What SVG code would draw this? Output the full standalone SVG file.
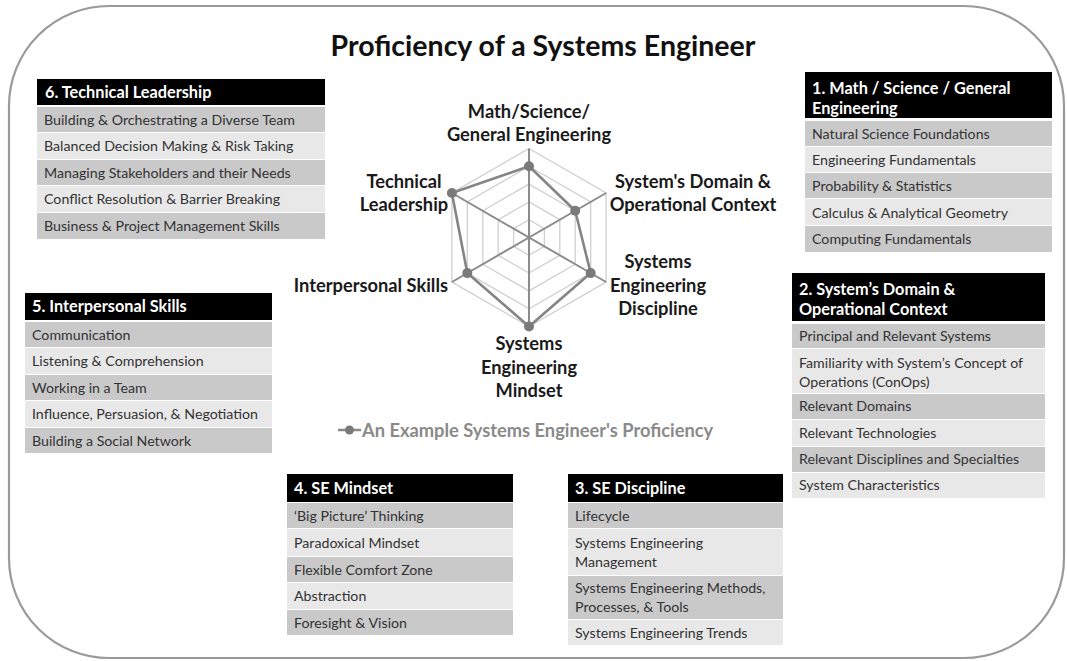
<svg xmlns="http://www.w3.org/2000/svg" width="1067" height="661" viewBox="0 0 1067 661">
  <style>
    .frame { fill: #ffffff; stroke: #9a9a9a; stroke-width: 2.2; }
    .title { font-family: Lato, "Liberation Sans", sans-serif; font-weight: 700; font-size: 28.5px; fill: #111; }
    .hdr { fill: #000; }
    .hdrtxt { font-family: Lato, "Liberation Sans", sans-serif; font-weight: 700; font-size: 16.3px; fill: #fff; }
    .dark { fill: #c9c9c9; }
    .light { fill: #e8e8e8; }
    .item { font-family: Lato, "Liberation Sans", sans-serif; font-size: 14.2px; fill: #333; }
    .ring { fill: none; stroke: #d0d0d0; stroke-width: 1.3; }
    .axis { stroke: #8c8c8c; stroke-width: 2; }
    .series { fill: none; stroke: #858585; stroke-width: 2.6; stroke-linejoin: round; }
    .dot { fill: #7a7a7a; }
    .lbl { font-family: Lato, "Liberation Sans", sans-serif; font-weight: 700; font-size: 18.3px; fill: #1a1a1a; }
    .legend { font-family: Lato, "Liberation Sans", sans-serif; font-weight: 700; font-size: 18.3px; fill: #8a8a8a; }
  </style>

  <rect class="frame" x="9" y="6" width="1055" height="652" rx="100" ry="100"/>

  <text class="title" x="543" y="56" text-anchor="middle">Proficiency of a Systems Engineer</text>

  <!-- radar chart: six axes, five rings -->
  <g id="radar">
    <polygon class="ring" points="529,219.7 544.4,228.6 544.4,246.4 529,255.3 513.6,246.4 513.6,228.6"/>
    <polygon class="ring" points="529,201.9 559.8,219.7 559.8,255.3 529,273.1 498.2,255.3 498.2,219.7"/>
    <polygon class="ring" points="529,184.1 575.2,210.8 575.2,264.2 529,290.9 482.8,264.2 482.8,210.8"/>
    <polygon class="ring" points="529,166.3 590.7,201.9 590.7,273.1 529,308.7 467.3,273.1 467.3,201.9"/>
    <polygon class="ring" points="529,148.5 606.1,193 606.1,282 529,326.5 451.9,282 451.9,193"/>
    <line class="axis" x1="529" y1="148.5" x2="529" y2="326.5"/>
    <line class="axis" x1="606.1" y1="193" x2="451.9" y2="282"/>
    <line class="axis" x1="606.1" y1="282" x2="451.9" y2="193"/>
    <polygon class="series" points="529,166.3 575.2,210.8 590.7,273.1 529,326.5 467.3,273.1 451.9,193"/>
    <circle class="dot" cx="529" cy="166.3" r="5"/>
    <circle class="dot" cx="575.2" cy="210.8" r="5"/>
    <circle class="dot" cx="590.7" cy="273.1" r="5"/>
    <circle class="dot" cx="529" cy="326.5" r="5"/>
    <circle class="dot" cx="467.3" cy="273.1" r="5"/>
    <circle class="dot" cx="451.9" cy="193" r="5"/>

    <text class="lbl" text-anchor="middle"><tspan x="529" y="118">Math/Science/</tspan><tspan x="529" y="141">General Engineering</tspan></text>
    <text class="lbl" text-anchor="middle"><tspan x="693" y="188">System's Domain &amp;</tspan><tspan x="693" y="211">Operational Context</tspan></text>
    <text class="lbl" text-anchor="middle"><tspan x="658" y="268">Systems</tspan><tspan x="658" y="292">Engineering</tspan><tspan x="658" y="315">Discipline</tspan></text>
    <text class="lbl" text-anchor="middle"><tspan x="529" y="350">Systems</tspan><tspan x="529" y="374">Engineering</tspan><tspan x="529" y="397">Mindset</tspan></text>
    <text class="lbl" x="448" y="292" text-anchor="end">Interpersonal Skills</text>
    <text class="lbl" text-anchor="middle"><tspan x="404" y="188">Technical</tspan><tspan x="404" y="211">Leadership</tspan></text>

    <line x1="338" y1="430" x2="361" y2="430" stroke="#8a8a8a" stroke-width="2.5"/>
    <circle class="dot" cx="349.5" cy="430" r="4.5"/>
    <text class="legend" x="362" y="437">An Example Systems Engineer's Proficiency</text>
  </g>

  <!-- 6. Technical Leadership -->
  <g id="box6">
    <rect class="hdr" x="37" y="79" width="288" height="26"/>
    <text class="hdrtxt" x="45" y="98">6. Technical Leadership</text>
    <rect class="dark" x="37" y="107" width="288" height="25"/>
    <rect class="light" x="37" y="133" width="288" height="26"/>
    <rect class="dark" x="37" y="160" width="288" height="25"/>
    <rect class="light" x="37" y="186" width="288" height="26"/>
    <rect class="dark" x="37" y="213" width="288" height="26"/>
    <text class="item" x="44" y="125">Building &amp; Orchestrating a Diverse Team</text>
    <text class="item" x="44" y="151">Balanced Decision Making &amp; Risk Taking</text>
    <text class="item" x="44" y="178">Managing Stakeholders and their Needs</text>
    <text class="item" x="44" y="204">Conflict Resolution &amp; Barrier Breaking</text>
    <text class="item" x="44" y="231">Business &amp; Project Management Skills</text>
  </g>

  <!-- 5. Interpersonal Skills -->
  <g id="box5">
    <rect class="hdr" x="25" y="293" width="247" height="27"/>
    <text class="hdrtxt" x="32" y="312">5. Interpersonal Skills</text>
    <rect class="dark" x="25" y="322" width="247" height="25"/>
    <rect class="light" x="25" y="348" width="247" height="26"/>
    <rect class="dark" x="25" y="375" width="247" height="25"/>
    <rect class="light" x="25" y="401" width="247" height="26"/>
    <rect class="dark" x="25" y="428" width="247" height="25"/>
    <text class="item" x="32" y="340">Communication</text>
    <text class="item" x="32" y="366">Listening &amp; Comprehension</text>
    <text class="item" x="32" y="393">Working in a Team</text>
    <text class="item" x="32" y="419">Influence, Persuasion, &amp; Negotiation</text>
    <text class="item" x="32" y="446">Building a Social Network</text>
  </g>

  <!-- 1. Math / Science / General Engineering -->
  <g id="box1">
    <rect class="hdr" x="805" y="72" width="247" height="46"/>
    <text class="hdrtxt"><tspan x="812" y="94">1. Math / Science / General</tspan><tspan x="812" y="114">Engineering</tspan></text>
    <rect class="dark" x="805" y="121" width="247" height="25"/>
    <rect class="light" x="805" y="147" width="247" height="25"/>
    <rect class="dark" x="805" y="173" width="247" height="25"/>
    <rect class="light" x="805" y="199" width="247" height="26"/>
    <rect class="dark" x="805" y="226" width="247" height="26"/>
    <text class="item" x="812" y="139">Natural Science Foundations</text>
    <text class="item" x="812" y="165">Engineering Fundamentals</text>
    <text class="item" x="812" y="191">Probability &amp; Statistics</text>
    <text class="item" x="812" y="218">Calculus &amp; Analytical Geometry</text>
    <text class="item" x="812" y="244">Computing Fundamentals</text>
  </g>

  <!-- 2. System's Domain & Operational Context -->
  <g id="box2">
    <rect class="hdr" x="792" y="273" width="253" height="48"/>
    <text class="hdrtxt"><tspan x="799" y="295">2. System’s Domain &amp;</tspan><tspan x="799" y="315">Operational Context</tspan></text>
    <rect class="dark" x="792" y="324" width="253" height="24"/>
    <rect class="light" x="792" y="349" width="253" height="44"/>
    <rect class="dark" x="792" y="394" width="253" height="25"/>
    <rect class="light" x="792" y="420" width="253" height="26"/>
    <rect class="dark" x="792" y="447" width="253" height="25"/>
    <rect class="light" x="792" y="473" width="253" height="25"/>
    <text class="item" x="799" y="341">Principal and Relevant Systems</text>
    <text class="item"><tspan x="799" y="368">Familiarity with System’s Concept of</tspan><tspan x="799" y="387">Operations (ConOps)</tspan></text>
    <text class="item" x="799" y="411">Relevant Domains</text>
    <text class="item" x="799" y="438">Relevant Technologies</text>
    <text class="item" x="799" y="464">Relevant Disciplines and Specialties</text>
    <text class="item" x="799" y="490">System Characteristics</text>
  </g>

  <!-- 4. SE Mindset -->
  <g id="box4">
    <rect class="hdr" x="287" y="474" width="226" height="28"/>
    <text class="hdrtxt" x="294" y="494">4. SE Mindset</text>
    <rect class="dark" x="287" y="503" width="226" height="25"/>
    <rect class="light" x="287" y="529" width="226" height="27"/>
    <rect class="dark" x="287" y="557" width="226" height="25"/>
    <rect class="light" x="287" y="583" width="226" height="26"/>
    <rect class="dark" x="287" y="610" width="226" height="25"/>
    <text class="item" x="294" y="521">‘Big Picture’ Thinking</text>
    <text class="item" x="294" y="548">Paradoxical Mindset</text>
    <text class="item" x="294" y="575">Flexible Comfort Zone</text>
    <text class="item" x="294" y="601">Abstraction</text>
    <text class="item" x="294" y="628">Foresight &amp; Vision</text>
  </g>

  <!-- 3. SE Discipline -->
  <g id="box3">
    <rect class="hdr" x="568" y="474" width="215" height="28"/>
    <text class="hdrtxt" x="575" y="494">3. SE Discipline</text>
    <rect class="dark" x="568" y="503" width="215" height="25"/>
    <rect class="light" x="568" y="529" width="215" height="46"/>
    <rect class="dark" x="568" y="576" width="215" height="43"/>
    <rect class="light" x="568" y="620" width="215" height="25"/>
    <text class="item" x="575" y="521">Lifecycle</text>
    <text class="item"><tspan x="575" y="548">Systems Engineering</tspan><tspan x="575" y="567">Management</tspan></text>
    <text class="item"><tspan x="575" y="593">Systems Engineering Methods,</tspan><tspan x="575" y="612">Processes, &amp; Tools</tspan></text>
    <text class="item" x="575" y="638">Systems Engineering Trends</text>
  </g>
</svg>
